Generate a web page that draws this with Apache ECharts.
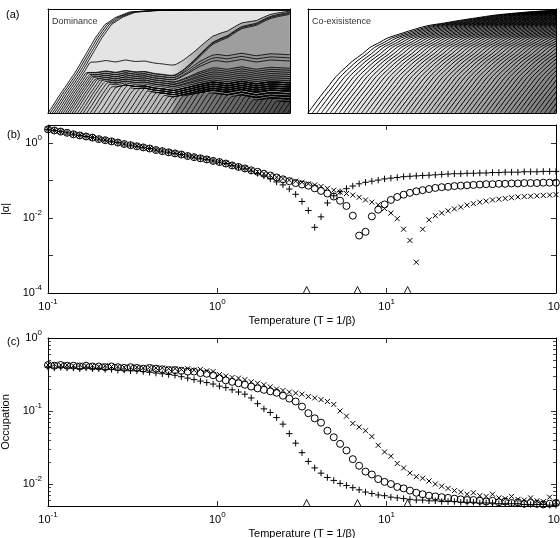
<!DOCTYPE html>
<html>
<head>
<meta charset="UTF-8">
<title>Dominance and co-existence</title>
<style>html,body{margin:0;padding:0;background:#fff}</style>
</head>
<body>
<div id="chart" style="width:560px;height:538px"></div>
<script src="https://cdn.jsdelivr.net/npm/echarts@6/dist/echarts.min.js"></script>
<script>
// ---- panels (b) and (c): temperatures (shared) ----
var tempT = [0.1, 0.109, 0.1189, 0.1296, 0.1413, 0.154, 0.1679, 0.183, 0.1995, 0.2175,
  0.2371, 0.2585, 0.2818, 0.3073, 0.335, 0.3652, 0.3981, 0.434, 0.4732, 0.5158,
  0.5623, 0.6131, 0.6683, 0.7286, 0.7943, 0.866, 0.9441, 1.029, 1.122, 1.223,
  1.334, 1.454, 1.585, 1.728, 1.884, 2.054, 2.239, 2.441, 2.661, 2.901,
  3.162, 3.447, 3.758, 4.097, 4.467, 4.87, 5.309, 5.788, 6.31, 6.879,
  7.499, 8.175, 8.913, 9.716, 10.59, 11.55, 12.59, 13.72, 14.96, 16.31,
  17.78, 19.38, 21.13, 23.04, 25.12, 27.38, 29.85, 32.54, 35.48, 38.68,
  42.17, 45.97, 50.12, 54.64, 59.57, 64.94, 70.79, 77.18, 84.14, 91.73,
  100];

// |alpha| in panel (b)
var alphaPlus = [2.29, 2.14, 2.00, 1.86, 1.70, 1.58, 1.48, 1.38, 1.26, 1.18,
  1.10, 1.02, 0.933, 0.871, 0.813, 0.759, 0.708, 0.646, 0.603, 0.562,
  0.525, 0.490, 0.447, 0.417, 0.389, 0.363, 0.331, 0.309, 0.282, 0.251,
  0.229, 0.204, 0.178, 0.155, 0.132, 0.110, 0.091, 0.076, 0.059, 0.0427,
  0.0275, 0.0158, 0.00562, 0.0107, 0.0251, 0.0389, 0.0501, 0.0603, 0.0708, 0.0813,
  0.0891, 0.0955, 0.102, 0.110, 0.115, 0.120, 0.126, 0.129, 0.132, 0.135,
  0.138, 0.141, 0.145, 0.148, 0.151, 0.151, 0.155, 0.155, 0.158, 0.158,
  0.162, 0.162, 0.166, 0.166, 0.166, 0.170, 0.170, 0.170, 0.174, 0.174,
  0.174];
var alphaCircle = [2.29, 2.14, 2.00, 1.86, 1.70, 1.58, 1.48, 1.38, 1.26, 1.18,
  1.10, 1.02, 0.933, 0.871, 0.813, 0.759, 0.708, 0.646, 0.603, 0.562,
  0.525, 0.490, 0.447, 0.417, 0.389, 0.363, 0.331, 0.309, 0.282, 0.251,
  0.229, 0.209, 0.186, 0.170, 0.151, 0.135, 0.120, 0.107, 0.0955, 0.0851,
  0.0776, 0.0724, 0.0617, 0.0525, 0.0447, 0.0372, 0.0288, 0.0209, 0.0115, 0.00339,
  0.00427, 0.0110, 0.0166, 0.0229, 0.0302, 0.0363, 0.0417, 0.0468, 0.0513, 0.0550,
  0.0589, 0.0631, 0.0661, 0.0676, 0.0708, 0.0724, 0.0741, 0.0759, 0.0776, 0.0794,
  0.0794, 0.0813, 0.0813, 0.0832, 0.0832, 0.0851, 0.0851, 0.0851, 0.0871, 0.0871,
  0.0871];
var alphaCross = [2.31, 2.15, 2.01, 1.87, 1.71, 1.59, 1.49, 1.39, 1.27, 1.19,
  1.11, 1.03, 0.94, 0.878, 0.82, 0.766, 0.714, 0.652, 0.609, 0.568,
  0.531, 0.496, 0.453, 0.423, 0.395, 0.369, 0.337, 0.315, 0.288, 0.257,
  0.232, 0.212, 0.189, 0.172, 0.153, 0.137, 0.122, 0.112, 0.102, 0.0955,
  0.0891, 0.0813, 0.0759, 0.0692, 0.0617, 0.0550, 0.0490, 0.0447, 0.0407, 0.0355,
  0.0302, 0.0263, 0.0224, 0.0178, 0.0135, 0.00955, 0.00501, 0.00251, 0.000661, 0.00501,
  0.00891, 0.0115, 0.0135, 0.0155, 0.0174, 0.0195, 0.0219, 0.0240, 0.0263, 0.0282,
  0.0302, 0.0316, 0.0331, 0.0347, 0.0363, 0.0372, 0.0380, 0.0389, 0.0398, 0.0407,
  0.0417];

// occupation in panel (c)
var occPlus = [0.398, 0.389, 0.398, 0.389, 0.389, 0.380, 0.389, 0.380, 0.380, 0.372,
  0.372, 0.363, 0.363, 0.355, 0.355, 0.347, 0.339, 0.331, 0.324, 0.316,
  0.309, 0.295, 0.282, 0.269, 0.257, 0.245, 0.234, 0.219, 0.209, 0.195,
  0.182, 0.170, 0.151, 0.126, 0.107, 0.0955, 0.0813, 0.0661, 0.0490, 0.0363,
  0.0269, 0.0204, 0.0166, 0.0141, 0.0123, 0.0112, 0.0102, 0.00955, 0.00891, 0.00832,
  0.00776, 0.00741, 0.00708, 0.00692, 0.00661, 0.00646, 0.00631, 0.00617, 0.00603, 0.00603,
  0.00589, 0.00589, 0.00575, 0.00575, 0.00575, 0.00562, 0.00562, 0.00562, 0.00550, 0.00550,
  0.00550, 0.00537, 0.00537, 0.00537, 0.00537, 0.00525, 0.00525, 0.00525, 0.00525, 0.00513,
  0.00513];
var occCircle = [0.427, 0.417, 0.427, 0.417, 0.417, 0.407, 0.417, 0.407, 0.407, 0.398,
  0.407, 0.398, 0.389, 0.398, 0.389, 0.380, 0.389, 0.380, 0.372, 0.363,
  0.363, 0.355, 0.347, 0.347, 0.331, 0.324, 0.309, 0.282, 0.263, 0.251,
  0.240, 0.229, 0.216, 0.204, 0.195, 0.186, 0.178, 0.162, 0.148, 0.135,
  0.115, 0.0933, 0.0794, 0.0692, 0.0537, 0.0437, 0.0355, 0.0288, 0.0219, 0.0178,
  0.0148, 0.0135, 0.0117, 0.0107, 0.0100, 0.00912, 0.00871, 0.00813, 0.00759, 0.00724,
  0.00692, 0.00676, 0.00661, 0.00646, 0.00631, 0.00617, 0.00603, 0.00603, 0.00589, 0.00575,
  0.00589, 0.00562, 0.00575, 0.00550, 0.00562, 0.00537, 0.00550, 0.00537, 0.00525, 0.00537,
  0.00550];
var occCross = [0.427, 0.437, 0.427, 0.427, 0.417, 0.427, 0.417, 0.417, 0.407, 0.417,
  0.407, 0.407, 0.398, 0.398, 0.398, 0.389, 0.398, 0.389, 0.389, 0.380,
  0.380, 0.372, 0.380, 0.363, 0.372, 0.355, 0.347, 0.316, 0.302, 0.288,
  0.282, 0.269, 0.251, 0.240, 0.229, 0.214, 0.200, 0.191, 0.182, 0.176,
  0.170, 0.158, 0.151, 0.143, 0.135, 0.123, 0.100, 0.0851, 0.0676, 0.0603,
  0.0537, 0.0447, 0.0339, 0.0275, 0.0240, 0.0191, 0.0166, 0.0141, 0.0126, 0.0120,
  0.0110, 0.0100, 0.00933, 0.00871, 0.00813, 0.00776, 0.00724, 0.00759, 0.00692, 0.00676,
  0.00724, 0.00646, 0.00631, 0.00676, 0.00617, 0.00603, 0.00646, 0.00589, 0.00575, 0.00661,
  0.00562];

// triangle marks on the temperature axis
var critT = [3.37, 6.73, 13.3];

// ---- panel (a) left, "Dominance": one boundary line per entry ----
// start on the bottom edge (0..100), plateau height on the left / right half
var domStart = [0, 0.9, 1.8, 2.7, 3.6, 4.5, 5.4, 6.3, 7.2, 8.1, 9, 10, 11, 12.2, 13.4, 14.6, 16, 17.5,
  19, 21, 23, 25, 27, 29, 31, 33, 35, 37, 39, 41, 43, 45, 47, 49,
  51, 53, 55, 57, 59, 61, 63, 65, 67, 69, 71, 73, 75, 77, 79, 81, 83, 85, 87, 89, 91, 93, 95, 97, 99];
var domLeft = [2, 2, 2, 2, 0.49, 0.39, 0.385, 0.37, 0.365, 0.35, 0.345, 0.33, 0.325, 0.31, 0.305, 0.29, 0.285, 0.27,
  0.25, 0.25, 0.25, 0.25, 0.23, 0.23, 0.23, 0.23, 0.21, 0.21, 0.21, 0.21, 0.19, 0.19, 0.19, 0.19,
  0.18, 0.18, 0.18, 0.18, 0.18, 0.165, 0.165, 0.165, 0.165, 0.165, 0.15, 0.15, 0.15, 0.15, 0.15,
  0.135, 0.135, 0.135, 0.135, 0.135, 0.12, 0.12, 0.12, 0.12, 0.12];
var domRight = [2, 2, 2, 2, 0.975, 0.965, 0.955, 0.945, 0.55, 0.52, 0.49, 0.42, 0.40, 0.38, 0.36, 0.34, 0.32, 0.30,
  0.28, 0.28, 0.28, 0.28, 0.26, 0.26, 0.26, 0.26, 0.24, 0.24, 0.24, 0.24, 0.22, 0.22, 0.22, 0.22,
  0.20, 0.20, 0.20, 0.20, 0.20, 0.175, 0.175, 0.175, 0.175, 0.175, 0.15, 0.15, 0.15, 0.15, 0.15,
  0.125, 0.125, 0.125, 0.125, 0.125, 0.10, 0.10, 0.10, 0.10, 0.10];
// rise of a line from its start
var riseU = [0, 2, 5, 8, 11.5, 15.5, 19.5, 23.5, 28, 33.5, 42.5, 60, 120];
var riseV = [0, 0.07, 0.18, 0.28, 0.40, 0.56, 0.72, 0.85, 0.92, 0.97, 0.985, 0.99, 0.99];
// takeover in the right half: slow (top bundle) and fast (middle lines)
var slowX = [0, 50, 53, 56, 60, 64, 68, 72, 78, 84, 90, 95, 100];
var slowV = [0, 0, 0.02, 0.08, 0.2, 0.34, 0.47, 0.57, 0.69, 0.79, 0.88, 0.94, 0.99];
var fastX = [0, 50, 54, 58, 62, 66, 70, 100];
var fastV = [0, 0, 0.1, 0.35, 0.65, 0.85, 1, 1];
// wiggle shared by the plateaus
var waveX = [0, 20, 24, 28, 32, 36, 40, 44, 48, 52, 56, 62, 68, 74, 80, 86, 92, 100];
var waveV = [0, 0, 0.015, 0, 0.02, 0.005, 0.01, -0.01, -0.02, -0.035, -0.02, 0, 0.02, 0, 0.025, 0, 0.02, 0.01];

// ---- panel (a) right, "Co-exisistence": same curve started further right ----
var coStart = [0, 1.8, 3.6, 5.4, 7.2, 9, 10.8, 12.6, 14.4, 16.2, 18, 19.8, 21.6, 23.4, 25.2, 27, 28.8,
  30.6, 32.4, 34.2, 36, 37.8, 39.6, 41.4, 43.2, 45, 46.8, 48.6, 50.4, 52.2, 54, 55.8, 57.6, 59.4,
  61.2, 63, 64.8, 66.6, 68.4, 70.2, 72, 73.8, 75.6, 77.4, 79.2, 81, 82.8, 84.6, 86.4, 88.2, 90,
  91.8, 93.6, 95.4, 97.2, 99];
var coU = [0, 2, 5, 8, 11.3, 15, 18, 22, 25, 29, 32, 38.3, 43, 48.4, 55, 61, 68, 75, 82, 88, 94, 100];
var coV = [0, 0.065, 0.16, 0.25, 0.35, 0.435, 0.50, 0.57, 0.63, 0.68, 0.72, 0.77, 0.805, 0.84, 0.865,
  0.89, 0.915, 0.94, 0.957, 0.97, 0.98, 0.99];

var FONT = '"Liberation Sans", Arial, Helvetica, sans-serif';

function lerp(xs, ys, x) {
  if (x <= xs[0]) return ys[0];
  for (var i = 1; i < xs.length; i++) {
    if (x <= xs[i]) return ys[i - 1] + (ys[i] - ys[i - 1]) * (x - xs[i - 1]) / (xs[i] - xs[i - 1]);
  }
  return ys[ys.length - 1];
}

function gray(v) {
  var h = Math.max(0, Math.min(255, Math.round(v))).toString(16);
  if (h.length < 2) h = '0' + h;
  return '#' + h + h + h;
}

function dominanceLine(j) {
  var x0 = domStart[j], lo = domLeft[j], hi = domRight[j];
  var tx = hi > 0.9 ? slowX : fastX, tv = hi > 0.9 ? slowV : fastV;
  var pts = [];
  function at(x) {
    var cap = lo + (hi - lo) * lerp(tx, tv, x) + lerp(waveX, waveV, x);
    return [x, Math.min(lerp(riseU, riseV, x - x0), cap)];
  }
  for (var x = x0; x < 100; x += 0.5) pts.push(at(x));
  pts.push(at(100));
  return pts;
}

function dominanceFill(j) {
  var l, r;
  if (j < 4) return '#e4e4e4';
  if (j < 5) { l = 226; r = 170; }
  else if (j < 8) { l = 220; r = 158; }
  else if (j < 11) { l = 214; r = 146; }
  else if (j < 18) { l = 208 - (j - 11) * 1.5; r = 130 - (j - 11) * 2; }
  else if (j < 34) { l = 202 - (j - 18) * 1.5; r = 110 - (j - 18); }
  else return gray(132 - (j - 34) * 2.6);
  return {
    type: 'linear', x: 48, y: 0, x2: 290, y2: 0, global: true,
    colorStops: [{offset: 0, color: gray(l)}, {offset: 0.5, color: gray(l)},
      {offset: 0.62, color: gray(r)}, {offset: 1, color: gray(r)}]
  };
}

var series = [];
domStart.forEach(function (s, j) {
  series.push({
    type: 'line', xAxisIndex: 0, yAxisIndex: 0, data: dominanceLine(j),
    symbol: 'none', silent: true, clip: true,
    lineStyle: {color: '#000', width: 0.85},
    areaStyle: {color: dominanceFill(j), opacity: 1, origin: 'start'}
  });
});
coStart.forEach(function (s, j) {
  series.push({
    type: 'line', xAxisIndex: 2, yAxisIndex: 2, smooth: 0.3,
    data: coU.map(function (u, i) { return [s + u, coV[i]]; }),
    symbol: 'none', silent: true, clip: true,
    lineStyle: {color: '#000', width: 1},
    areaStyle: {color: gray(255 - j * 2.5), opacity: 1, origin: 'start'}
  });
});

var PLUS = 'path://M0,5L10,5M5,0L5,10';
var CROSS = 'path://M0,0L10,10M0,10L10,0';

function markers(ax, values, sym, size) {
  return {
    type: 'scatter', xAxisIndex: ax, yAxisIndex: ax, clip: false, silent: true, z: 20,
    data: tempT.map(function (t, i) { return [t, values[i]]; }),
    symbol: sym, symbolSize: size,
    itemStyle: {color: 'rgba(0,0,0,0)', borderColor: '#000', borderWidth: 1, opacity: 1}
  };
}
function triangles(ax, floor) {
  return {
    type: 'scatter', xAxisIndex: ax, yAxisIndex: ax, clip: false, silent: true, z: 21,
    data: critT.map(function (t) { return [t, floor]; }),
    symbol: 'triangle', symbolSize: 7, symbolOffset: [0, -3],
    itemStyle: {color: '#fff', borderColor: '#000', borderWidth: 0.9, opacity: 1}
  };
}
series.push(markers(4, alphaCircle, 'circle', 7), markers(4, alphaCross, CROSS, 5),
  markers(4, alphaPlus, PLUS, 6.5), triangles(4, 1e-4));
series.push(markers(6, occCircle, 'circle', 7), markers(6, occCross, CROSS, 5),
  markers(6, occPlus, PLUS, 6.5), triangles(6, 0.005));

var RICH = {
  b: {fontFamily: FONT, fontSize: 11, color: '#000', lineHeight: 18},
  s: {fontFamily: FONT, fontSize: 8, color: '#000', lineHeight: 8, verticalAlign: 'top'}
};
function decadeLabel(step) {
  return function (v) {
    var e = Math.log10(v), r = Math.round(e);
    if (Math.abs(e - r) > 1e-6 || r % step !== 0) return '';
    return '{b|10}{s|' + r + '}';
  };
}

function frameAxis(grid, pos, isX) {
  return {
    type: 'value', gridIndex: grid, position: pos, min: 0, max: isX ? 100 : 1, z: 50,
    axisLine: {show: true, onZero: false, lineStyle: {color: '#000', width: 1}},
    axisTick: {show: false}, axisLabel: {show: false}, splitLine: {show: false}
  };
}
function logAxis(grid, pos, min, max, labelFn, extra) {
  var a = {
    type: 'log', logBase: 10, gridIndex: grid, position: pos, min: min, max: max, z: 50,
    axisLine: {show: true, onZero: false, lineStyle: {color: '#000', width: 1}},
    axisTick: {show: true, inside: true, length: 5, lineStyle: {color: '#000', width: 0.8}},
    axisLabel: labelFn ? {
      show: true, formatter: labelFn, rich: RICH, color: '#000',
      margin: (pos === 'bottom' ? 5 : 6), showMinLabel: true, showMaxLabel: true
    } : {show: false},
    splitLine: {show: false}
  };
  for (var k in (extra || {})) a[k] = extra[k];
  return a;
}
var nameStyle = {fontFamily: FONT, fontSize: 11, color: '#000'};
var occMinor = {show: true, splitNumber: 9, length: 3, lineStyle: {color: '#000', width: 0.7}};

var xAxes = [
  frameAxis(0, 'bottom', true), frameAxis(0, 'top', true),
  frameAxis(1, 'bottom', true), frameAxis(1, 'top', true),
  logAxis(2, 'bottom', 0.1, 100, decadeLabel(1),
    {name: 'Temperature (T = 1/β)', nameLocation: 'middle', nameGap: 22, nameTextStyle: nameStyle}),
  logAxis(2, 'top', 0.1, 100, null),
  logAxis(3, 'bottom', 0.1, 100, decadeLabel(1),
    {name: 'Temperature (T = 1/β)', nameLocation: 'middle', nameGap: 22, nameTextStyle: nameStyle}),
  logAxis(3, 'top', 0.1, 100, null)
];
var yAxes = [
  frameAxis(0, 'left', false), frameAxis(0, 'right', false),
  frameAxis(1, 'left', false), frameAxis(1, 'right', false),
  logAxis(2, 'left', 1e-4, 3, decadeLabel(2),
    {name: '|α|', nameLocation: 'middle', nameGap: 30, nameTextStyle: nameStyle}),
  logAxis(2, 'right', 1e-4, 3, null),
  logAxis(3, 'left', 0.005, 1, decadeLabel(1),
    {name: 'Occupation', nameLocation: 'middle', nameGap: 30, nameTextStyle: nameStyle, minorTick: occMinor}),
  logAxis(3, 'right', 0.005, 1, null, {minorTick: occMinor})
];

var grids = [
  {left: 48, top: 9, width: 242, height: 104},
  {left: 308, top: 9, width: 248, height: 104},
  {left: 48, top: 125, width: 508, height: 168},
  {left: 48, top: 338, width: 508, height: 168}
].map(function (g) { g.containLabel = false; g.outerBoundsMode = 'none'; return g; });

function label(txt, x, y, size, color) {
  return {type: 'text', left: x, top: y, z: 100,
    style: {text: txt, fontFamily: FONT, fontSize: size, fill: color}};
}

var chart = echarts.init(document.getElementById('chart'), null, {renderer: 'canvas'});
chart.setOption({
  animation: false,
  backgroundColor: '#fff',
  textStyle: {fontFamily: FONT},
  grid: grids,
  xAxis: xAxes,
  yAxis: yAxes,
  graphic: [
    label('(a)', 6, 9, 11, '#000'),
    label('(b)', 7, 129, 11, '#000'),
    label('(c)', 7, 336, 11, '#000'),
    label('Dominance', 52, 17, 9, '#333'),
    label('Co-exisistence', 312, 17, 9, '#333')
  ],
  series: series
});
</script>
</body>
</html>
